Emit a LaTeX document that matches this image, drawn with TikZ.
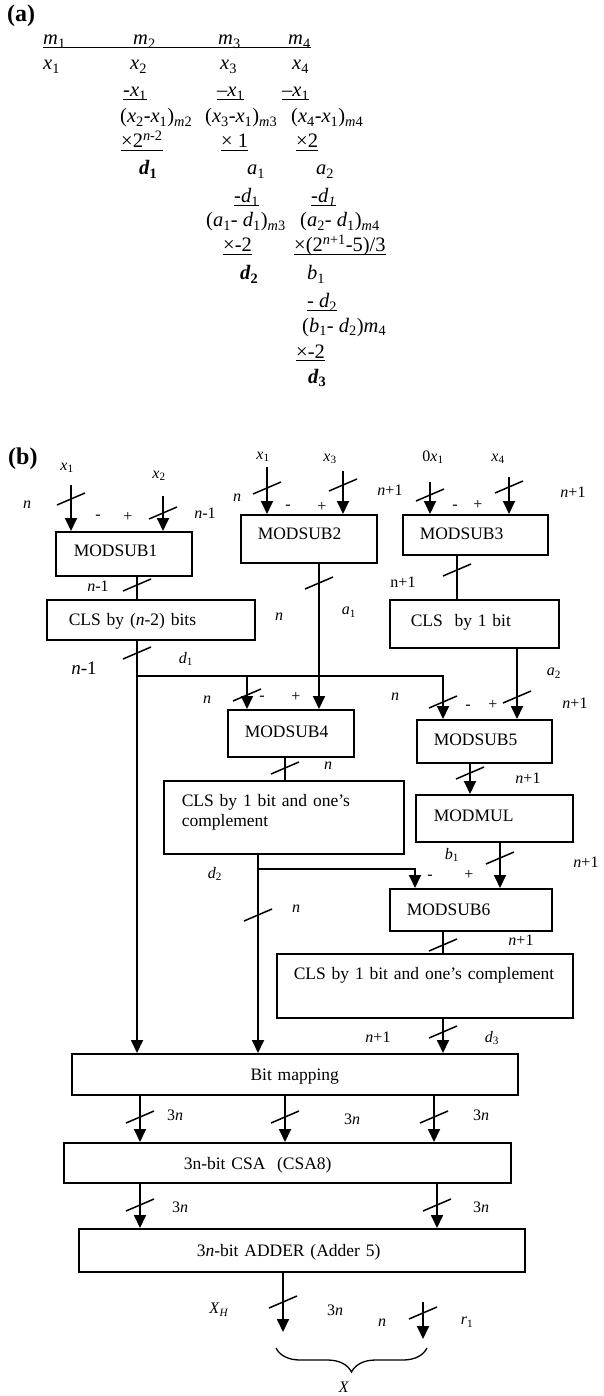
\documentclass[tikz,border=0pt]{standalone}
\usepackage{fontspec}
\setmainfont{Liberation Serif}
\usetikzlibrary{arrows.meta,decorations.pathreplacing}
\newcommand{\iv}[2]{\textit{#1}\textsubscript{#2}}
\newcommand{\fa}{\fontsize{20.5}{24}\selectfont}
\newcommand{\fb}{\fontsize{17.5}{20}\selectfont}
\newcommand{\fl}{\fontsize{16}{19}\selectfont}
\tikzset{busmark/.pic={\draw[line width=1.5pt] (-14,6) -- (14,-6);}}
\begin{document}
\begin{tikzpicture}[x=1pt,y=-1pt,
  ta/.style={font=\fa,inner sep=0pt,anchor=base west,text depth=2pt},
  ttl/.style={font=\bfseries\fontsize{24}{28}\selectfont,inner sep=0pt,anchor=base west},
  lab/.style={font=\fl,inner sep=0pt},
  ul/.style={line width=1.3pt},
  bx/.style={draw,line width=1.5pt,anchor=north west,inner ysep=0pt,align=left,font=\fb},
  ln/.style={line width=1.7pt},
  arr/.style={line width=1.8pt,-{Triangle[length=13pt,width=12pt]}}]
\useasboundingbox (0,0) rectangle (603,1396);
\fill[white] (0,0) rectangle (603,1396);

% ---------------- (a) ----------------
\node[ttl] (ta) at (7,22) {(a)};
\node[ta] (am1) at (43,45) {\iv{m}{1}};
\node[ta] (am2) at (133,45) {\iv{m}{2}};
\node[ta] (am3) at (218,45) {\iv{m}{3}};
\node[ta] (am4) at (288,45) {\iv{m}{4}};
\draw[ul] (am1.south west) -- (am4.south east);
\node[ta] (ax1) at (43,70) {\iv{x}{1}};
\node[ta] (ax2) at (130,70) {\iv{x}{2}};
\node[ta] (ax3) at (220,70) {\iv{x}{3}};
\node[ta] (ax4) at (292,70) {\iv{x}{4}};
\node[ta] (an1) at (123,97) {-\iv{x}{1}};
\node[ta] (an2) at (217,97) {–\iv{x}{1}};
\node[ta] (an3) at (282,97) {–\iv{x}{1}};
\foreach \n in {an1,an2,an3} \draw[ul] (\n.south west) -- (\n.south east);
\node[ta] (ad1) at (120,123) {(\iv{x}{2}-\iv{x}{1})\textsubscript{\textit{m}2}};
\node[ta] (ad2) at (205,123) {(\iv{x}{3}-\iv{x}{1})\textsubscript{\textit{m}3}};
\node[ta] (ad3) at (291,123) {(\iv{x}{4}-\iv{x}{1})\textsubscript{\textit{m}4}};
\node[ta] (ak1) at (121,148) {×2\textsuperscript{\textit{n}-2}};
\node[ta] (ak2) at (221,148) {× 1};
\node[ta] (ak3) at (296,148) {×2};
\foreach \n in {ak1,ak2,ak3} \draw[ul] (\n.south west) -- (\n.south east);
\node[ta] (ar1) at (139,175) {\textbf{\textit{d}\textsubscript{1}}};
\node[ta] (ar2) at (247,175) {\iv{a}{1}};
\node[ta] (ar3) at (316,175) {\iv{a}{2}};
\node[ta] (as1) at (234,203) {-\iv{d}{1}};
\node[ta] (as2) at (311,203) {-\textit{d}\textsubscript{\textit{1}}};
\foreach \n in {as1,as2} \draw[ul] (\n.south west) -- (\n.south east);
\node[ta] (at1) at (206,227) {(\iv{a}{1}- \iv{d}{1})\textsubscript{\textit{m}3}};
\node[ta] (at2) at (300,227) {(\iv{a}{2}- \iv{d}{1})\textsubscript{\textit{m}4}};
\node[ta] (au1) at (223,252) {×-2};
\node[ta] (au2) at (294,252) {×(2\textsuperscript{\textit{n}+1}-5)/3};
\foreach \n in {au1,au2} \draw[ul] (\n.south west) -- (\n.south east);
\node[ta] (av1) at (240,280) {\textbf{\textit{d}\textsubscript{2}}};
\node[ta] (av2) at (307,280) {\iv{b}{1}};
\node[ta] (aw1) at (307,308) {- \iv{d}{2}};
\draw[ul] (aw1.south west) -- (aw1.south east);
\node[ta] (ax5) at (302,332) {(\iv{b}{1}- \iv{d}{2})\iv{m}{4}};
\node[ta] (ay1) at (296,358) {×-2};
\draw[ul] (ay1.south west) -- (ay1.south east);
\node[ta] (az1) at (308,383) {\textbf{\textit{d}\textsubscript{3}}};

% ---------------- (b) boxes ----------------
\node[ttl] (tb) at (8,464) {(b)};
\node[bx,inner xsep=18pt,text width=100pt,text height=25pt,text depth=19pt] (M1) at (55,531) {MODSUB1};
\node[bx,inner xsep=17pt,text width=102pt,text height=25pt,text depth=23pt] (M2) at (240,514) {MODSUB2};
\node[bx,inner xsep=17pt,text width=111pt,text height=25pt,text depth=15pt] (M3) at (402,514) {MODSUB3};
\node[bx,inner xsep=22pt,text width=164pt,text height=26pt,text depth=14pt] (C1) at (46,599) {CLS by (\textit{n}-2) bits};
\node[bx,inner xsep=21pt,text width=127pt,text height=27pt,text depth=21pt] (C2) at (389,599) {CLS\ \ by 1 bit};
\node[bx,inner xsep=17pt,text width=92pt,text height=28pt,text depth=19pt] (M4) at (227,709) {MODSUB4};
\node[bx,inner xsep=17pt,text width=101pt,text height=26pt,text depth=17pt] (M5) at (416,719) {MODSUB5};
\node[bx,inner xsep=18pt,text width=204pt,text height=26pt,text depth=47pt] (C3) at (163,780) {CLS by 1 bit and one’s\\complement};
\node[bx,inner xsep=18pt,text width=121pt,text height=27pt,text depth=20pt] (MM) at (415,794) {MODMUL};
\node[bx,inner xsep=17pt,text width=128pt,text height=27pt,text depth=15pt] (M6) at (389,888) {MODSUB6};
\node[bx,inner xsep=17pt,text width=262pt,text height=26pt,text depth=38pt] (C4) at (276,953) {CLS by 1 bit and one’s complement};
\node[bx,align=center,inner xsep=0pt,text width=446pt,text height=27pt,text depth=14pt] (BM) at (71,1053) {Bit mapping};
\node[bx,inner xsep=120pt,text width=207pt,text height=27pt,text depth=13pt] (CSA) at (63,1142) {3n-bit CSA\ \ (CSA8)};
\node[bx,inner xsep=118pt,text width=210pt,text height=28pt,text depth=15pt] (AD) at (78,1228) {3\textit{n}-bit ADDER (Adder 5)};

% ---------------- inputs ----------------
\node[lab] (lx1a) at (67,468) {\iv{x}{1}};
\node[lab] (lx2) at (159,476) {\iv{x}{2}};
\node[lab] (ln1) at (27,505) {\textit{n}};
\node[lab] (lm1) at (98,517) {-};
\node[lab] (lp1) at (128,517) {+};
\node[lab] (ln1b) at (205,513) {\textit{n}-1};
\node[lab] (lx1b) at (263,457) {\iv{x}{1}};
\node[lab] (lx3) at (330,459) {\iv{x}{3}};
\node[lab] (ln2) at (237,498) {\textit{n}};
\node[lab] (lm2) at (288,507) {-};
\node[lab] (lp2) at (322,507) {+};
\node[lab] (ln2b) at (390,490) {\textit{n}+1};
\node[lab] (lx1c) at (433,457) {0\iv{x}{1}};
\node[lab] (lx4) at (498,459) {\iv{x}{4}};
\node[lab] (lm3) at (455,507) {-};
\node[lab] (lp3) at (478,505) {+};
\node[lab] (ln3b) at (573,492) {\textit{n}+1};

\coordinate (s1) at (71,485);
\coordinate (s2) at (163,496);
\coordinate (s3) at (267,467);
\coordinate (s4) at (343,471);
\coordinate (s5) at (430,482);
\coordinate (s6) at (509,477);
\draw[arr] (s1) -- (s1 |- M1.north);
\draw[arr] (s2) -- (s2 |- M1.north);
\draw[arr] (s3) -- (s3 |- M2.north);
\draw[arr] (s4) -- (s4 |- M2.north);
\draw[arr] (s5) -- (s5 |- M3.north);
\draw[arr] (s6) -- (s6 |- M3.north);

% ---------------- internal connections ----------------
\draw[ln] (137,0 |- M1.south) -- (137,0 |- C1.north);
\draw[arr] (137,0 |- C1.south) -- (137,0 |- BM.north);
\coordinate (j1) at (137,676);
\draw[arr] (j1) -| (443,0 |- M5.north);
\draw[arr] (247,0 |- j1) -- (247,0 |- M4.north);
\draw[arr] (319,0 |- M2.south) -- (319,0 |- M4.north);
\draw[ln] (457,0 |- M3.south) -- (457,0 |- C2.north);
\draw[arr] (517,0 |- C2.south) -- (517,0 |- M5.north);
\draw[ln] (285,0 |- M4.south) -- (285,0 |- C3.north);
\draw[arr] (470,0 |- M5.south) -- (470,0 |- MM.north);
\draw[arr] (500,0 |- MM.south) -- (500,0 |- M6.north);
\draw[arr] (258,0 |- C3.south) -- (258,0 |- BM.north);
\coordinate (j2) at (258,869);
\draw[arr] (j2) -| (415,0 |- M6.north);
\draw[ln] (443,0 |- M6.south) -- (443,0 |- C4.north);
\draw[arr] (443,0 |- C4.south) -- (443,0 |- BM.north);
\foreach \xx in {140,285,434} \draw[arr] (\xx,0 |- BM.south) -- (\xx,0 |- CSA.north);
\foreach \xx in {140,437} \draw[arr] (\xx,0 |- CSA.south) -- (\xx,0 |- AD.north);
\coordinate (xo) at (283,1332);
\draw[arr] (xo |- AD.south) -- (xo);
\coordinate (r1a) at (423,1302);
\coordinate (r1b) at (423,1339);
\draw[arr] (r1a) -- (r1b);
\coordinate (bl) at (276,1348);
\coordinate (br) at (427,1348);
\draw[line width=1.3pt,decorate,decoration={brace,mirror,amplitude=24pt}] (bl) -- (br);

% ---------------- bus marks ----------------
\foreach \p in {(71,499),(163,513),(267,488),(343,485),(430,495),(509,487),
  (137,585),(319,583),(457,570),(137,653),(247,695),(443,702),(517,697),
  (285,768),(470,773),(500,858),(258,915),(443,945),(443,1032),
  (140,1117),(285,1117),(434,1117),(140,1205),(437,1205),(283,1302),(423,1313)}
  \pic at \p {busmark};

% ---------------- labels ----------------
\node[lab] (l01) at (98,586) {\textit{n}-1};
\node[lab] (l02) at (403,582) {n+1};
\node[lab] (l03) at (279,617) {\textit{n}};
\node[lab] (l04) at (349,612) {\iv{a}{1}};
\node[lab,font=\fontsize{19}{22}\selectfont] (l05) at (84,668) {\textit{n}-1};
\node[lab] (l06) at (186,659) {\iv{d}{1}};
\node[lab] (l07) at (207,700) {\textit{n}};
\node[lab] (l08) at (262,698) {-};
\node[lab] (l09) at (296,697) {+};
\node[lab] (l10) at (395,697) {\textit{n}};
\node[lab] (l11) at (468,707) {-};
\node[lab] (l12) at (493,705) {+};
\node[lab] (l13) at (554,673) {\iv{a}{2}};
\node[lab] (l14) at (575,703) {\textit{n}+1};
\node[lab] (l15) at (328,766) {\textit{n}};
\node[lab] (l16) at (528,778) {\textit{n}+1};
\node[lab] (l17) at (452,855) {\iv{b}{1}};
\node[lab] (l18) at (586,862) {\textit{n}+1};
\node[lab] (l19) at (215,874) {\iv{d}{2}};
\node[lab] (l20) at (430,877) {-};
\node[lab] (l21) at (469,875) {+};
\node[lab] (l22) at (296,909) {\textit{n}};
\node[lab] (l23) at (521,940) {\textit{n}+1};
\node[lab] (l24) at (378,1037) {\textit{n}+1};
\node[lab] (l25) at (492,1038) {\iv{d}{3}};
\node[lab] (l26) at (175,1115) {3\textit{n}};
\node[lab] (l27) at (352,1119) {3\textit{n}};
\node[lab] (l28) at (481,1115) {3\textit{n}};
\node[lab] (l29) at (180,1207) {3\textit{n}};
\node[lab] (l30) at (481,1207) {3\textit{n}};
\node[lab] (l31) at (219,1310) {\textit{X}\textsubscript{\textit{H}}};
\node[lab] (l32) at (335,1310) {3\textit{n}};
\node[lab] (l33) at (382,1323) {\textit{n}};
\node[lab] (l34) at (467,1322) {\iv{r}{1}};
\node[lab] (l35) at (344,1387) {\textit{X}};
\end{tikzpicture}
\end{document}
